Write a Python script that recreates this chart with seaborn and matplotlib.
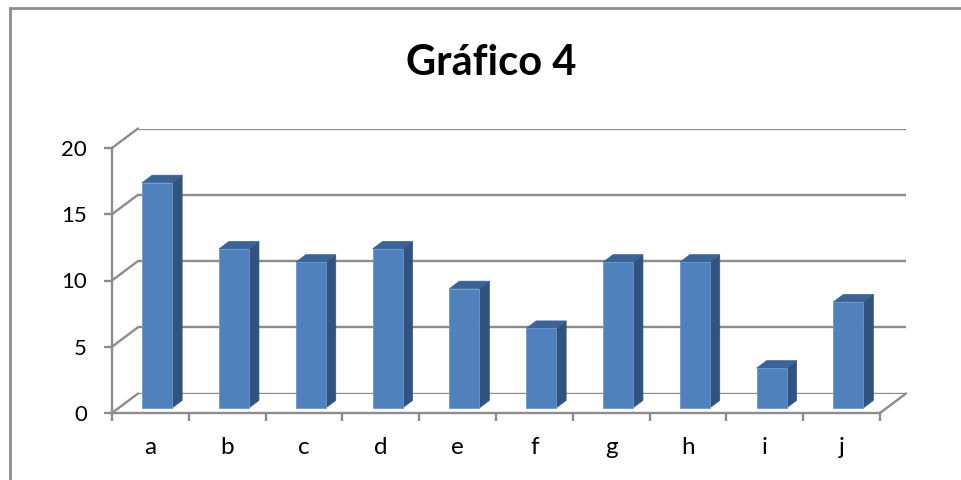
import matplotlib
matplotlib.use("Agg")
import matplotlib.pyplot as plt
import matplotlib.transforms as mtransforms
from matplotlib.patches import Polygon, Rectangle, ConnectionPatch
import seaborn as sns

# Data
categories = ["a", "b", "c", "d", "e", "f", "g", "h", "i", "j"]
values = [17, 12, 11, 12, 9, 6, 11, 11, 3, 8]
y_ticks = [0, 5, 10, 15, 20]
title = "Gráfico 4"

# Styling
FRONT = "#4F81BD"
SIDE = "#31537F"
TOP = "#3A6399"
EDGE = "#6E96CA"
GRID = "#8C8C8C"
FONT = "Lato"

W, H, DPI = 961, 480, 100
sns.set_theme(style="white")
plt.rcParams["font.family"] = [FONT, "DejaVu Sans"]
plt.rcParams["text.color"] = "black"

fig = plt.figure(figsize=(W / DPI, H / DPI), dpi=DPI)

# Plot-area geometry in pixels
left, right, bottom, top = 112, 880, 413, 148
depth_dx, depth_dy = 26, 19.5          # offset of the back wall
front_frac, back_frac = 0.26, 0.645     # bar depth position

ax = fig.add_axes([left / W, 1 - bottom / H, (right - left) / W, (bottom - top) / H])
back = fig.add_axes([(left + depth_dx) / W, 1 - (bottom - depth_dy) / H,
                     (right - left) / W, (bottom - top) / H])
back.set_zorder(0)
ax.set_zorder(1)
ax.patch.set_alpha(0)

for a in (ax, back):
    a.set_xlim(-0.5, len(categories) - 0.5)
    a.set_ylim(0, 20)

# Back wall gridlines
back.set_axis_off()
for v in y_ticks:
    back.axhline(v, color=GRID, lw=1.7, solid_capstyle="butt")

# Left wall diagonals and right floor edge
for v in y_ticks:
    cp = ConnectionPatch(xyA=(-0.5, v), coordsA=ax.transData,
                         xyB=(-0.5, v), coordsB=back.transData,
                         color=GRID, lw=1.7)
    fig.add_artist(cp)
cp = ConnectionPatch(xyA=(len(categories) - 0.5, 0), coordsA=ax.transData,
                     xyB=(len(categories) - 0.5, 0), coordsB=back.transData,
                     color=GRID, lw=1.7)
fig.add_artist(cp)

# Bars (front faces) via seaborn
sns.barplot(x=categories, y=values, ax=ax, width=0.39, color=FRONT,
            saturation=1, edgecolor=EDGE, linewidth=0.6)
ax.set_xlim(-0.5, len(categories) - 0.5)
ax.set_ylim(0, 20)

front_off = mtransforms.ScaledTranslation(depth_dx * front_frac / DPI,
                                          depth_dy * front_frac / DPI,
                                          fig.dpi_scale_trans)
back_off = mtransforms.ScaledTranslation(depth_dx * back_frac / DPI,
                                         depth_dy * back_frac / DPI,
                                         fig.dpi_scale_trans)
T_front = ax.transData + front_off
T_back = ax.transData + back_off

for p in list(ax.patches):
    x0 = p.get_x()
    x1 = x0 + p.get_width()
    h = p.get_height()
    p.set_transform(T_front)
    p.set_clip_on(False)
    p.set_zorder(3)
    f = T_front.transform([(x0, 0), (x1, 0), (x1, h), (x0, h)])
    b = T_back.transform([(x0, 0), (x1, 0), (x1, h), (x0, h)])
    side = Polygon([f[1], b[1], b[2], f[2]], closed=True,
                   transform=mtransforms.IdentityTransform(),
                   facecolor=SIDE, edgecolor=SIDE, lw=0.5, zorder=2, clip_on=False)
    topf = Polygon([f[3], f[2], b[2], b[3]], closed=True,
                   transform=mtransforms.IdentityTransform(),
                   facecolor=TOP, edgecolor=TOP, lw=0.5, zorder=2, clip_on=False)
    ax.add_patch(side)
    ax.add_patch(topf)

# Front axes
for s in ("top", "right"):
    ax.spines[s].set_visible(False)
for s in ("left", "bottom"):
    ax.spines[s].set_color(GRID)
    ax.spines[s].set_linewidth(1.7)

ax.set_yticks(y_ticks)
ax.set_yticklabels([str(v) for v in y_ticks], fontsize=16, color="black")
ax.tick_params(axis="y", direction="out", length=6, width=1.7, color=GRID,
               pad=12, left=True)
ax.set_xticks(range(len(categories)))
ax.set_xticklabels(categories, fontsize=17.5, color="black")
ax.set_xticks([i - 0.5 for i in range(len(categories) + 1)], minor=True)
ax.tick_params(axis="x", which="major", length=0, pad=17)
ax.tick_params(axis="x", which="minor", direction="out", length=5.5, width=1.7,
               color=GRID, bottom=True)
ax.set_xlabel("")
ax.set_ylabel("")

# Title
fig.text(491 / W, 1 - 75 / H, title, ha="center", va="baseline", color="black",
         fontsize=30, fontweight="bold", family=[FONT, "DejaVu Sans"])

# Chart border
fig.add_artist(Rectangle((10 / W, -0.1), 1.2, 1 - 8 / H + 0.1,
                         transform=fig.transFigure, fill=False,
                         edgecolor=GRID, lw=2))

fig.savefig("out.png", dpi=DPI, facecolor="white")
